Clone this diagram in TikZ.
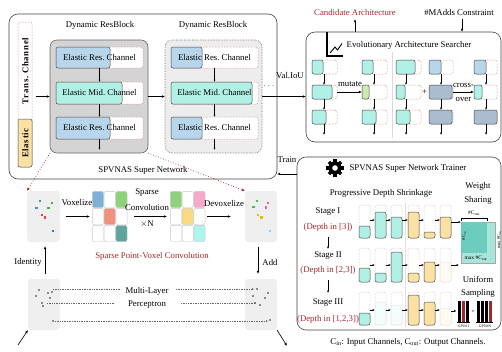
\documentclass[tikz,border=0pt]{standalone}
\usepackage{fontspec}
\setmainfont{Liberation Serif}
\usetikzlibrary{arrows.meta}
\definecolor{resblue}{HTML}{B8D6EB}
\definecolor{midteal}{HTML}{B0F0E5}
\definecolor{slotred}{HTML}{C86464}
\definecolor{darkred}{HTML}{A0282C}
\definecolor{ylw}{HTML}{FBE2A4}
\definecolor{mgreen}{HTML}{CDE9AE}
\definecolor{gblue}{HTML}{A9BDCF}
\definecolor{wlight}{HTML}{A9E4DA}
\definecolor{wdark}{HTML}{6CCDBF}
\definecolor{gbluecell}{HTML}{7DB1D8}
\definecolor{ggreen}{HTML}{8ED27C}
\definecolor{gsalmon}{HTML}{F3907F}
\definecolor{gteal}{HTML}{5FA59D}
\definecolor{gpink}{HTML}{F5A9CB}
\definecolor{gyellow}{HTML}{FADB82}
\definecolor{gcyan}{HTML}{ABF5EC}
\definecolor{panelgray}{HTML}{EFEFEF}
\definecolor{cblue}{HTML}{3D8FD1}
\definecolor{cgreen}{HTML}{3BB34A}
\definecolor{cred}{HTML}{E8413A}
\definecolor{cteal}{HTML}{1E8A87}
\definecolor{cgreenb}{HTML}{33CC44}
\definecolor{cpink}{HTML}{F060B0}
\definecolor{cyel}{HTML}{F5B800}
\definecolor{ccyan}{HTML}{60E8E8}
\newcommand{\hslot}[7]{%
  \node[slotst, anchor=north west, minimum width={(#4-#2)*1bp}, minimum height={(#5-#3)*1bp}] (#1) at (#2,#3) {};
  \node[fillst, fill=#7, anchor=north west, minimum width={(#6-#2)*1bp}, minimum height={(#5-#3)*1bp}] (#1f) at (#2,#3) {};}
\newcommand{\vslot}[7]{%
  \node[tslot, anchor=north west, minimum width={(#4-#2)*1bp}, minimum height={(#5-#3)*1bp}] (#1) at (#2,#3) {};
  \node[fillst, #7, anchor=south west, minimum width={(#4-#2)*1bp}, minimum height={(#5-#6)*1bp}] (#1f) at (#2,#5) {};}
\newcommand{\sq}[3]{\fill[#3] ({#1-1.3},{#2-1.3}) rectangle ++(2.6,2.6);}
\newcommand{\gsq}[2]{\fill[black!45] ({#1-0.9},{#2-0.9}) rectangle ++(1.8,1.8);}
\newcommand{\gcell}[5]{\draw[gridcell, fill=#5] ({#1+#3*11.8+0.3},{#2+#4*17+0.3}) rectangle ++(11.2,16.4);}
\tikzset{
  every node/.style={font=\fontsize{8.8}{9.5}\selectfont, inner sep=0pt, outer sep=0pt},
  bigbox/.style={draw=black!75, line width=0.6bp, rounded corners=9bp},
  slotst/.style={draw=slotred, densely dotted, line width=0.5bp, fill=white, rounded corners=2bp},
  tslot/.style={draw=slotred!60, densely dotted, line width=0.5bp, fill=white, rounded corners=2bp},
  fillst/.style={draw=black!70, line width=0.5bp, rounded corners=2bp},
  arr/.style={-{Latex[length=3.2bp,width=2.6bp]}, line width=0.6bp},
  sarr/.style={-{Latex[length=2.4bp,width=2bp]}, line width=0.5bp},
  reddot/.style={draw=darkred, dotted, line width=0.7bp, -{Latex[length=3.2bp,width=2.8bp]}},
  mlp/.style={draw=black!60, dash pattern=on 0.6bp off 1.1bp, line width=0.55bp},
  mlptip/.style={-{Latex[length=2bp,width=1.8bp]}},
  panel/.style={fill=panelgray, rounded corners=3bp},
  gridcell/.style={draw=black!22, line width=0.4bp, rounded corners=2bp},
  redtxt/.style={text=darkred},
  tiny/.style={font=\fontsize{4.6}{5}\selectfont},
}
\begin{document}
\begin{tikzpicture}[x=1bp,y=-1bp]
\useasboundingbox (0,0) rectangle (502,351);
% ================= super network
\node[bigbox, anchor=north west, minimum width=268bp, minimum height=165bp] (snet) at (9,14) {};
\node (snetlbl) at (143,170) {SPVNAS Super Network};
\node[slotst, anchor=north west, minimum width=14bp, minimum height=145bp] (trans) at (18,22) {};
\node[fillst, fill=ylw, anchor=south west, minimum width=14bp, minimum height=48bp] (transf) at (18,167) {};
\node[rotate=90, font={\fontsize{8.8}{9.5}\selectfont\bfseries\addfontfeatures{LetterSpace=8}}] (transA) at (25.3,143) {Elastic};
\node[rotate=90, font={\fontsize{8.8}{9.5}\selectfont\bfseries\addfontfeatures{LetterSpace=8}}] (transB) at (25.3,71) {Trans.\ Channel};
% block 1
\node[draw=black!60, line width=0.6bp, fill=black!17, rounded corners=7bp, anchor=north west, minimum width=98bp, minimum height=113bp] (b1) at (50,40) {};
\node (b1t) at (100,25) {Dynamic ResBlock};
\hslot{r11}{56}{47}{143}{68}{110}{resblue}
\hslot{r12}{56}{82}{143}{104}{122}{midteal}
\hslot{r13}{56}{117}{143}{139}{110}{resblue}
\node (r11t) at (r11) {Elastic Res.\ Channel};
\node (r12t) at (r12) {Elastic Mid.\ Channel};
\node (r13t) at (r13) {Elastic Res.\ Channel};
\draw[sarr] (r11.south) -- (r12.north);
\draw[sarr] (r12.south) -- (r13.north);
\coordinate (b1o) at (99.5,150);
\draw[sarr] (r13.south) -- (b1o);
% block 2
\node[draw=black!60, densely dotted, line width=0.6bp, fill=black!7, rounded corners=7bp, anchor=north west, minimum width=97bp, minimum height=113bp] (b2) at (165,40) {};
\node (b2t) at (213,25) {Dynamic ResBlock};
\hslot{r21}{171}{47}{258}{68}{202}{resblue}
\hslot{r22}{171}{82}{258}{104}{252}{midteal}
\hslot{r23}{171}{117}{258}{139}{202}{resblue}
\node (r21t) at (r21) {Elastic Res.\ Channel};
\node (r22t) at (r22) {Elastic Mid.\ Channel};
\node (r23t) at (r23) {Elastic Res.\ Channel};
\draw[sarr] (r21.south) -- (r22.north);
\draw[sarr] (r22.south) -- (r23.north);
\coordinate (b2o) at (214.5,150);
\draw[sarr] (r23.south) -- (b2o);
% arrows among blocks
\coordinate (ta) at ([xshift=4bp]trans.east);
\draw[arr] (ta |- b1.west) -- (b1.west);
\draw[arr] (b1.east) -- (b2.west);
\node (dots) at (269,86) {$\cdots$};
% ================= searcher
\node[bigbox, anchor=north west, minimum width=195bp, minimum height=110bp] (srch) at (306,32) {};
\node (srcht) at (409,45) {Evolutionary Architecture Searcher};
\draw[line width=1.1bp] (327,32) -- (327,56) -- (343,56);
\draw[line width=0.9bp] (330,53) -- (335,47) -- (337.5,50) -- (342,43.5);
\node[redtxt] (cand) at (355,12) {Candidate Architecture};
\coordinate (candA) at (355,19);
\draw[arr] (candA |- srch.north) -- (candA);
\node (madd) at (459,12) {\#MAdds Constraint};
\coordinate (maddA) at (462,18.5);
\draw[arr] (maddA) -- (maddA |- srch.north);
\draw[black!15, line width=0.6bp] (392,52) -- (392,138);
\draw[arr] (b2.east) -- (b2.east -| srch.west);
\node (val) at (290,76) {Val.IoU};
% columns
\hslot{sA1}{312}{60}{337}{74}{323}{midteal}
\hslot{sA2}{312}{85}{337}{99}{332}{midteal}
\hslot{sA3}{312}{110}{337}{124}{326}{midteal}
\hslot{sB1}{362}{60}{387}{74}{373}{midteal}
\hslot{sB2}{362}{85}{387}{99}{369}{mgreen}
\hslot{sB3}{362}{110}{387}{124}{376}{midteal}
\hslot{sC1}{396}{60}{421}{74}{415}{midteal}
\hslot{sC2}{396}{85}{421}{99}{405}{midteal}
\hslot{sC3}{396}{110}{421}{124}{410}{midteal}
\hslot{sD1}{429}{60}{453}{74}{441}{resblue}
\hslot{sD2}{429}{85}{453}{99}{452}{gblue}
\hslot{sD3}{429}{110}{453}{124}{452}{gblue}
\hslot{sE1}{474}{60}{497}{74}{486}{resblue}
\hslot{sE2}{474}{85}{497}{99}{482}{midteal}
\hslot{sE3}{474}{110}{497}{124}{497}{gblue}
\foreach \c/\xx in {A/324,B/374,C/406,D/441,E/486} {
  \draw[sarr] (s\c1.south -| \xx,0) -- (s\c2.north -| \xx,0);
  \draw[sarr] (s\c2.south -| \xx,0) -- (s\c3.north -| \xx,0);
  \coordinate (s\c o) at (\xx,135);
  \draw[sarr] (s\c3.south -| \xx,0) -- (s\c o);
}
\node (mut) at (350,84) {mutate};
\draw[arr] (sA2.east) -- (sB2.west);
\node (plus) at (424.5,92) {+};
\node (cro1) at (463.5,85) {cross-};
\node (cro2) at (463.5,99) {over};
\draw[arr] (sD2.east) -- (sE2.west);
% ================= trainer
\node[bigbox, anchor=north west, minimum width=204bp, minimum height=173bp] (trn) at (297,157) {};
\draw[arr] (trn.west |- 0,174) -- (snet.east |- 0,174);
\node (trainl) at (287,160) {Train};
\begin{scope}[shift={(335,168)}]
\foreach \a in {0,45,...,315} {\fill[rotate=\a] (-1.7,5) rectangle (1.7,8.6);}
\fill (0,0) circle[radius=6.6];
\fill[white] (0,0) circle[radius=2.8];
\end{scope}
\node (trnt) at (408,168) {SPVNAS Super Network Trainer};
\node (pds) at (381,193) {Progressive Depth Shrinkage};
\node (ws1) at (478,186) {Weight};
\node (ws2) at (478,200) {Sharing};
\node (st1) at (328,212) {Stage I};
\node[redtxt] (d1) at (328,227) {(Depth in [3])};
\node (st2) at (328,256) {Stage II};
\node[redtxt] (d2) at (328,270) {(Depth in [2,3])};
\node (st3) at (328,303) {Stage III};
\node[redtxt] (d3) at (328,319) {(Depth in [1,2,3])};
\coordinate (sa1) at (328,237); \coordinate (sa2) at (328,249);
\draw[sarr] (sa1) -- (sa2);
\coordinate (sb1) at (328,280); \coordinate (sb2) at (328,293);
\draw[sarr] (sb1) -- (sb2);
\draw[black!12, line width=0.6bp] (405,203) -- (405,327);
% bars
\vslot{t11}{359}{205}{370}{238}{226}{fill=midteal}
\vslot{t12}{375}{205}{386}{238}{212}{fill=midteal}
\vslot{t13}{391}{205}{402}{238}{217}{fill=midteal}
\vslot{t14}{408}{205}{419}{238}{212}{fill=ylw}
\vslot{t15}{424}{205}{435}{238}{232}{fill=ylw}
\vslot{t16}{440}{205}{451}{238}{217}{fill=ylw}
\vslot{t21}{359}{248}{370}{282}{268}{fill=midteal}
\vslot{t22}{375}{248}{386}{282}{273}{fill=midteal}
\vslot{t23}{391}{248}{402}{282}{252}{fill=midteal}
\vslot{t24}{408}{248}{419}{282}{273}{fill=ylw}
\vslot{t25}{424}{248}{435}{282}{262}{fill=ylw}
\vslot{t26}{440}{248}{451}{282}{262}{fill=ylw!15, draw=black!10}
\vslot{t31}{359}{292}{370}{325}{313}{fill=midteal}
\vslot{t32}{375}{292}{386}{325}{302}{fill=midteal!15, draw=black!10}
\vslot{t33}{391}{292}{402}{325}{305}{fill=midteal!15, draw=black!10}
\vslot{t34}{408}{292}{419}{325}{295}{fill=ylw}
\vslot{t35}{424}{292}{435}{325}{302}{fill=ylw}
\vslot{t36}{440}{292}{451}{325}{308}{fill=ylw!15, draw=black!10}
\foreach \r/\yy in {1/220,2/265,3/310} {
  \foreach \c [evaluate=\c as \n using int(\c+1)] in {1,...,5} {
    \draw[sarr] (t\r\c.east |- 0,\yy) -- (t\r\n.west |- 0,\yy);
  }
}
% weight matrix
\node[anchor=north west, fill=wlight, draw=black!35, line width=0.3bp, minimum width=34bp, minimum height=41bp] (wm) at (461,222) {};
\node[anchor=north west, fill=wdark, minimum width=26bp, minimum height=31bp] (wmi) at (461,222) {};
\draw[line width=0.4bp] (461,220.5) -- (461,218) -- (487,218) -- (487,220.5);
\node[font=\fontsize{5.5}{6}\selectfont] (cout) at (474,213) {\#C$_{\mathrm{out}}$};
\node[tiny, rotate=90] (cinl) at (464,236) {\#C$_{\mathrm{in}}$};
\node[tiny, rotate=90] (cinr) at (499,240) {max \#C$_{\mathrm{in}}$};
\node[font=\fontsize{5.5}{6}\selectfont] (mcout) at (476,258.5) {max \#C$_{\mathrm{out}}$};
\draw[sarr] (t16.east |- 0,222) -- (wm.west |- 0,222);
\coordinate (w2) at (459,265);
\draw[sarr] (t26.east |- w2) -- (w2);
\node (uni) at (478,279) {Uniform};
\node (samp) at (478,293) {Sampling};
% GPU bars
\fill[black] (458,301) rectangle (460.8,322);
\fill[darkred] (462,301) rectangle (464.5,322);
\fill[black] (465.7,301) rectangle (468.5,322);
\draw[line width=0.4bp] (457,322) -- (469.5,322);
\node (gdash) at (473,312) {-};
\fill[black] (477,301) rectangle (479.8,322);
\fill[black] (481,301) rectangle (483.8,322);
\fill[black] (485,301) rectangle (487.8,322);
\fill[darkred] (489,301) rectangle (491.5,322);
\draw[line width=0.4bp] (476,322) -- (492.5,322);
\coordinate (g3) at (456.5,311);
\draw[sarr] (t36.east |- g3) -- (g3);
\node[font=\fontsize{3.8}{4}\selectfont] (gpu1) at (463.5,326.5) {GPU\#1};
\node[font=\fontsize{3.8}{4}\selectfont] (gpun) at (485,326.5) {GPU\#N};
\node (capt) at (408,342) {C\textsubscript{in}: Input Channels, C\textsubscript{out}: Output Channels.};
% ================= lower left : SPVConv
\node[panel, anchor=north west, minimum width=33bp, minimum height=51bp] (p1) at (27,191) {};
\node[panel, anchor=north west, minimum width=32bp, minimum height=51bp] (p2) at (245,191) {};
\node[panel, anchor=north west, minimum width=32bp, minimum height=51bp] (p3) at (28,279) {};
\node[panel, anchor=north west, minimum width=32bp, minimum height=51bp] (p4) at (245,279) {};
\sq{40}{201}{cblue} \sq{36.5}{208}{cblue} \sq{52}{203}{cgreen} \sq{48.5}{208}{cgreen}
\sq{42}{215}{cred} \sq{45}{217.5}{cred} \sq{53}{231}{cteal}
\sq{257}{201}{cgreenb} \sq{253.5}{207}{cgreenb} \sq{268}{203}{cpink} \sq{266}{207.5}{cpink}
\sq{258}{215}{cyel} \sq{261.5}{217.5}{cyel} \sq{270}{231}{ccyan}
\gsq{39}{290} \gsq{36}{296} \gsq{48}{293} \gsq{52}{292} \gsq{50}{298} \gsq{42}{303} \gsq{43}{306} \gsq{53}{321}
\gsq{257}{289} \gsq{253}{296} \gsq{268}{293} \gsq{265}{298} \gsq{255}{303} \gsq{260}{305} \gsq{270}{320}
% grids
\node[anchor=north west, minimum width=35.4bp, minimum height=51bp] (g1) at (92,191) {};
\node[anchor=north west, minimum width=35.4bp, minimum height=51bp] (g2) at (170,191) {};
\gcell{92}{191}{0}{0}{gbluecell} \gcell{92}{191}{1}{0}{white} \gcell{92}{191}{2}{0}{ggreen}
\gcell{92}{191}{0}{1}{white} \gcell{92}{191}{1}{1}{gsalmon} \gcell{92}{191}{2}{1}{white}
\gcell{92}{191}{0}{2}{white} \gcell{92}{191}{1}{2}{white} \gcell{92}{191}{2}{2}{gteal}
\gcell{170}{191}{0}{0}{ggreen} \gcell{170}{191}{1}{0}{white} \gcell{170}{191}{2}{0}{gpink}
\gcell{170}{191}{0}{1}{white} \gcell{170}{191}{1}{1}{gyellow} \gcell{170}{191}{2}{1}{white}
\gcell{170}{191}{0}{2}{white} \gcell{170}{191}{1}{2}{white} \gcell{170}{191}{2}{2}{gcyan}
\node (vox) at (77,203) {Voxelize};
\draw[arr] ([xshift=6bp]p1.east) -- ([xshift=-2bp]g1.west);
\node (spc1) at (147,193) {Sparse};
\node (spc2) at (147,207) {Convolution};
\node (spc3) at (147,224) {$\times$N};
\draw[arr] ([xshift=7bp]g1.east) -- ([xshift=-3bp]g2.west);
\node (devox) at (224,203) {Devoxelize};
\draw[arr] ([xshift=2bp]g2.east) -- ([xshift=-14bp]p2.west);
\draw[reddot] (b1.south west) -- (p1.north west);
\draw[reddot] (b1.south east) -- (p2.north west);
\node[redtxt] (spvc) at (152,256) {Sparse Point-Voxel Convolution};
\node (idt) at (28,262) {Identity};
\coordinate (idA) at (45,274); \coordinate (idB) at (45,246);
\draw[arr] (idA) -- (idB);
\node (addl) at (270,262) {Add};
\coordinate (adA) at (258,247); \coordinate (adB) at (258,274);
\draw[arr] (adA) -- (adB);
% MLP
\node (mlp1) at (147,291) {Multi-Layer};
\node (mlp2) at (147,305) {Perceptron};
\draw[mlp] (53,289) -- (121,289);
\draw[mlp, mlptip] (176,289) -- (254,289);
\draw[mlp] (47,303) -- (114,303);
\draw[mlp, mlptip] (181,303) -- (256,303);
\draw[mlp, mlptip] (55,321) -- (268,321);
\coordinate (inA) at (18,345);
\draw[arr] (inA) -- (p3.south west);
\coordinate (outB) at (287,346);
\draw[arr] (p4.south east) -- (outB);
\end{tikzpicture}
\end{document}
